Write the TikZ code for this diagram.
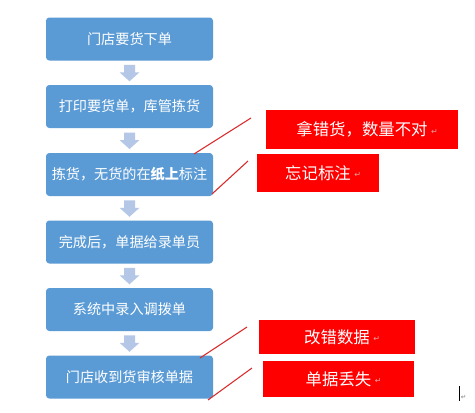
\documentclass[tikz,border=0pt]{standalone}
\usepackage{fontspec}
\newfontfamily\cjk{Noto Sans CJK SC}
\newfontfamily\sym{DejaVu Sans}
\usetikzlibrary{calc}
\definecolor{boxblue}{HTML}{5B9BD5}
\definecolor{arrowblue}{HTML}{B4C7E7}
\definecolor{errred}{HTML}{FF0000}
\definecolor{linered}{HTML}{D92B2B}
\definecolor{retgray}{HTML}{F0A0A0}
\begin{document}
\begin{tikzpicture}[x=0.75pt,y=-0.75pt,
  stepbox/.style={fill=boxblue, rounded corners=2.5pt, minimum width=125.25pt, minimum height=32.25pt,
    text=white, font=\cjk\fontsize{10.6pt}{12pt}\selectfont, inner sep=0pt},
  errbox/.style={fill=errred, inner sep=0pt},
  errtext/.style={text=white, font=\cjk\fontsize{12.3pt}{14pt}\selectfont, inner sep=0pt},
  ret/.style={text=retgray, font=\sym\fontsize{6pt}{7pt}\selectfont, inner sep=0pt, anchor=west},
  errline/.style={draw=linered, line width=0.8pt},
  downarrow/.pic={\fill[arrowblue] (-5.5,-8) -- (5.5,-8) -- (5.5,-0.5) -- (10,-0.5) -- (0,8.5) -- (-10,-0.5) -- (-5.5,-0.5) -- cycle;}
]
\useasboundingbox[fill=white] (0,0) rectangle (475,412);

% flow boxes
\node[stepbox] (b1) at (129.5,39)    {门店要货下单};
\node[stepbox] (b2) at (129.5,106.5) {打印要货单，库管拣货};
\node[stepbox] (b3) at (129.5,174.5) {拣货，无货的在{\bfseries 纸上}标注};
\node[stepbox] (b4) at (129.5,242)   {完成后，单据给录单员};
\node[stepbox] (b5) at (129.5,309.5) {系统中录入调拨单};
\node[stepbox] (b6) at (129.5,377)   {门店收到货审核单据};

% block arrows
\path pic at ($(b1.south)!0.5!(b2.north)$) {downarrow};
\path pic at ($(b2.south)!0.5!(b3.north)$) {downarrow};
\path pic at ($(b3.south)!0.5!(b4.north)$) {downarrow};
\path pic at ($(b4.south)!0.5!(b5.north)$) {downarrow};
\path pic at ($(b5.south)!0.5!(b6.north)$) {downarrow};

% red problem boxes
\node[errbox, minimum width=144pt, minimum height=29.25pt] (ra) at (362,129.5) {};
\node[errtext] (ta) at (ra) {拿错货，数量不对};
\node[ret] at ($(ta.east)+(3,2)$) {↵};

\node[errbox, minimum width=91.5pt, minimum height=28.5pt] (rb) at (318,173) {};
\node[errtext] (tb) at (rb) {忘记标注};
\node[ret] at ($(tb.east)+(3,2)$) {↵};

\node[errbox, minimum width=117pt, minimum height=25.5pt] (rc) at (337,337) {};
\node[errtext] (tc) at (rc) {改错数据};
\node[ret] at ($(tc.east)+(3,2)$) {↵};

\node[errbox, minimum width=113.25pt, minimum height=27pt] (rd) at (338.5,379) {};
\node[errtext] (td) at (rd) {单据丢失};
\node[ret] at ($(td.east)+(3,2)$) {↵};

% red pointer lines
\coordinate (l1a) at (194,154); \coordinate (l1b) at (251,118);
\coordinate (l2a) at (212,194); \coordinate (l2b) at (248,161);
\coordinate (l3a) at (200,358); \coordinate (l3b) at (247,327);
\coordinate (l4a) at (208,400); \coordinate (l4b) at (252,368);
\draw[errline] (l1a) -- (l1b);
\draw[errline] (l2a) -- (l2b);
\draw[errline] (l3a) -- (l3b);
\draw[errline] (l4a) -- (l4b);

% text cursor mark
\coordinate (cu1) at (459,386); \coordinate (cu2) at (459,401);
\draw[black, line width=0.6pt] (cu1) -- (cu2);
\node[text=gray, font=\sym\fontsize{5pt}{6pt}\selectfont, inner sep=0pt, anchor=south west] (cr) at (460.5,400) {↵};
\end{tikzpicture}
\end{document}
